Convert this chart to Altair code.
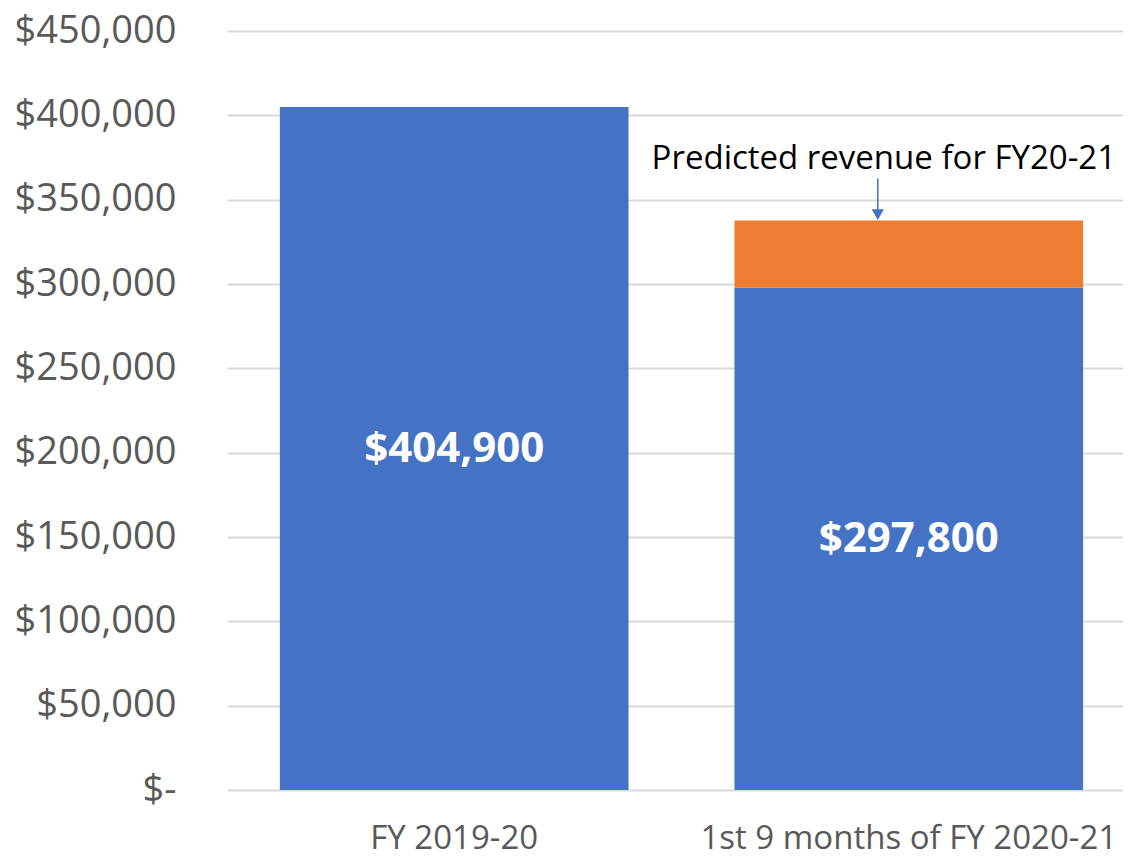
import altair as alt
import pandas as pd

# ---- data ----
categories = ["FY 2019-20", "1st 9 months of FY 2020-21"]
actual_revenue = [404900, 297800]
predicted_total = [None, 337600]
bar_labels = ["$404,900", "$297,800"]
segments = ["Actual", "Predicted"]
annotation_text = "Predicted revenue for FY20-21"
y_ticks = [0, 50000, 100000, 150000, 200000, 250000, 300000, 350000, 400000, 450000]

BLUE = "#4472C4"
ORANGE = "#ED7D31"
FONT = "Open Sans"

rows = []
for cat, act, pred, lab in zip(categories, actual_revenue, predicted_total, bar_labels):
    rows.append({"category": cat, "segment": "Actual", "start": 0, "end": act, "label": lab})
    if pred is not None:
        rows.append({"category": cat, "segment": "Predicted", "start": act, "end": pred, "label": ""})
bars_df = pd.DataFrame(rows)

ann_df = pd.DataFrame([
    {"category": c, "pred": p, "text": annotation_text}
    for c, p in zip(categories, predicted_total) if p is not None
])

x_scale = alt.Scale(paddingInner=0.233, paddingOuter=0.102, align=0.57)
x_enc = alt.X(
    "category:N",
    sort=categories,
    title=None,
    scale=x_scale,
    axis=alt.Axis(labelAngle=0, ticks=False, domain=False, grid=False,
                  labelFontSize=33, labelPadding=32, labelColor="#595959",
                  labelFont=FONT, labelLimit=0),
)
y_scale = alt.Scale(domain=[0, 450000], nice=False)
y_axis = alt.Axis(
    values=y_ticks, title=None, ticks=False, domain=False,
    grid=True, gridColor="#D9D9D9", gridWidth=2,
    labelExpr="datum.value == 0 ? '$-' : '$' + format(datum.value, ',')",
    labelFontSize=38, labelColor="#595959", labelFont=FONT, labelPadding=51,
    labelLimit=0,
)

bars = alt.Chart(bars_df).mark_bar().encode(
    x=x_enc,
    y=alt.Y("start:Q", scale=y_scale, axis=y_axis),
    y2="end:Q",
    color=alt.Color("segment:N", scale=alt.Scale(domain=segments, range=[BLUE, ORANGE]), legend=None),
)

labels = alt.Chart(bars_df).transform_filter(
    alt.datum.segment == "Actual"
).transform_calculate(
    mid="(datum.start + datum.end) / 2"
).mark_text(color="white", fontWeight="bold", fontSize=42, font=FONT, baseline="middle").encode(
    x=alt.X("category:N", sort=categories),
    y=alt.Y("mid:Q", scale=y_scale),
    text="label:N",
)

arrow_shaft = alt.Chart(ann_df).transform_calculate(
    top="datum.pred + 25000",
    bottom="datum.pred + 6000",
).mark_rule(color=BLUE, strokeWidth=1.5, xOffset=-31).encode(
    x=alt.X("category:N", sort=categories),
    y=alt.Y("top:Q", scale=y_scale),
    y2="bottom:Q",
)

arrow_head = alt.Chart(ann_df).mark_point(
    shape="triangle-down", filled=True, color=BLUE, opacity=1, size=150, xOffset=-31, yOffset=-6
).encode(
    x=alt.X("category:N", sort=categories),
    y=alt.Y("pred:Q", scale=y_scale),
)

ann_text = alt.Chart(ann_df).mark_text(
    fontSize=33, font=FONT, color="black", baseline="middle", align="center", dy=-62, xOffset=-25
).encode(
    x=alt.X("category:N", sort=categories),
    y=alt.Y("pred:Q", scale=y_scale),
    text="text:N",
)

chart = alt.layer(bars, labels, arrow_shaft, arrow_head, ann_text).properties(
    width=896, height=759,
    background="white",
    autosize=alt.AutoSizeParams(type="none"),
    padding={"left": 219, "top": 23, "right": 0, "bottom": 67},
).configure_view(stroke=None)

chart.save("out.html", embed_options={"renderer": "svg", "actions": False})
